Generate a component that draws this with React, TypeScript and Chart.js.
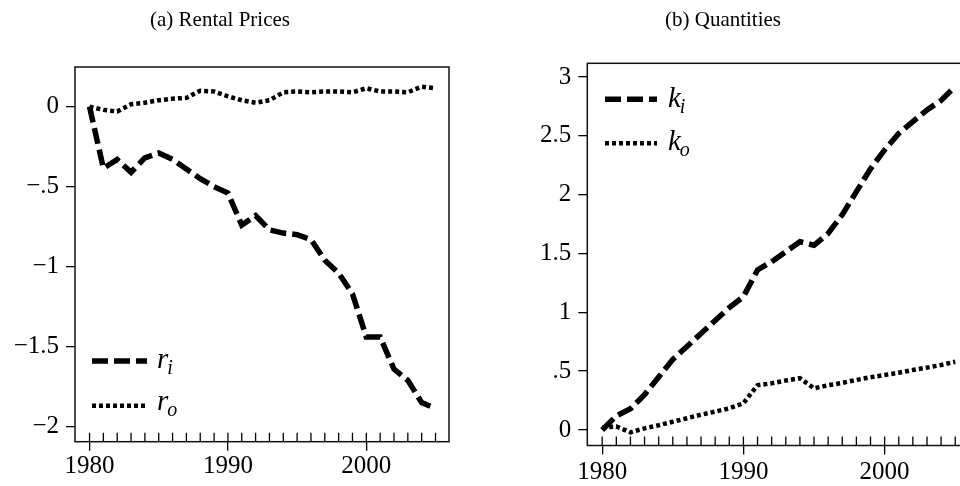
import React, { useEffect, useRef } from "react";
import { Chart, registerables } from "chart.js";

Chart.register(...registerables);

// ---------- data ----------
const years = [
  1980, 1981, 1982, 1983, 1984, 1985, 1986, 1987, 1988, 1989,
  1990, 1991, 1992, 1993, 1994, 1995, 1996, 1997, 1998, 1999,
  2000, 2001, 2002, 2003, 2004, 2005,
];

// (a) Rental Prices
const riValues = [
  0, -0.385, -0.33, -0.41, -0.32, -0.29, -0.33, -0.39, -0.45, -0.5,
  -0.54, -0.74, -0.68, -0.77, -0.79, -0.8, -0.83, -0.96, -1.04, -1.17,
  -1.44, -1.44, -1.64, -1.71, -1.85, -1.885,
];
const roValues = [
  0, -0.02, -0.03, 0.015, 0.025, 0.04, 0.05, 0.055, 0.1, 0.095,
  0.065, 0.04, 0.025, 0.04, 0.09, 0.095, 0.09, 0.095, 0.095, 0.09,
  0.115, 0.095, 0.095, 0.09, 0.125, 0.115,
];

// (b) Quantities
const kiValues = [
  0, 0.12, 0.18, 0.3, 0.45, 0.6, 0.71, 0.82, 0.93, 1.04,
  1.133, 1.36, 1.43, 1.515, 1.6, 1.57, 1.67, 1.83, 2.025, 2.22,
  2.38, 2.52, 2.62, 2.72, 2.8, 2.92,
];
const koValues = [
  0.02, 0.03, -0.02, 0.014, 0.04, 0.07, 0.1, 0.13, 0.156, 0.184,
  0.227, 0.38, 0.397, 0.42, 0.44, 0.354, 0.38, 0.4, 0.425, 0.448,
  0.467, 0.487, 0.51, 0.53, 0.552, 0.58,
];

const xMajorTicks = [1980, 1990, 2000];
const leftYTicks = [0, -0.5, -1, -1.5, -2];
const leftYLabels = ["0", "\u2212.5", "\u22121", "\u22121.5", "\u22122"];
const rightYTicks = [0, 0.5, 1, 1.5, 2, 2.5, 3];
const rightYLabels = ["0", ".5", "1", "1.5", "2", "2.5", "3"];

const leftTitle = "(a) Rental Prices";
const rightTitle = "(b) Quantities";
const leftNames: [string, string][] = [["r", "i"], ["r", "o"]];
const rightNames: [string, string][] = [["k", "i"], ["k", "o"]];

// ---------- styling ----------
const FONT = '"Liberation Serif", "Times New Roman", serif';
const DASH = [16, 6];
const DOT = [4, 3];
const DASH_W = 5.5;
const DOT_W = 4.5;

type PanelSpec = {
  width: number;
  height: number;
  left: number;
  series: [number[], number[]];
  names: [string, string][];
  title: string;
  titleX: number;
  titleY: number;
  yTicks: number[];
  yLabels: string[];
  yMin: number;
  yMax: number;
  xMin: number;
  xMax: number;
  padTop: number;
  padRight: number;
  yAxisWidth: number;
  xAxisHeight: number;
  xLabelPad: number;
  legend: { x0: number; x1: number; tx: number; rows: { y: number; base: number }[] };
};

function makePlugin(p: PanelSpec) {
  return {
    id: "decor",
    afterDraw(chart: any) {
      const ctx = chart.ctx as CanvasRenderingContext2D;
      const a = chart.chartArea;
      const xs = chart.scales.x;
      ctx.save();
      // frame
      ctx.strokeStyle = "#111";
      ctx.lineWidth = 1.5;
      ctx.strokeRect(a.left, a.top, a.right - a.left, a.bottom - a.top);
      // inward x ticks
      ctx.lineWidth = 1.3;
      ctx.strokeStyle = "#000";
      ctx.beginPath();
      for (const yr of years) {
        const px = xs.getPixelForValue(yr);
        ctx.moveTo(px, a.bottom - 9);
        ctx.lineTo(px, a.bottom);
      }
      ctx.stroke();
      // title
      ctx.fillStyle = "#000";
      ctx.font = `21px ${FONT}`;
      ctx.textAlign = "center";
      ctx.textBaseline = "alphabetic";
      ctx.fillText(p.title, p.titleX, p.titleY);
      // legend
      ctx.textAlign = "left";
      p.legend.rows.forEach((row, i) => {
        ctx.beginPath();
        ctx.setLineDash(i === 0 ? DASH : DOT);
        ctx.lineWidth = i === 0 ? DASH_W : DOT_W;
        ctx.lineCap = "butt";
        ctx.moveTo(p.legend.x0, row.y);
        ctx.lineTo(p.legend.x1, row.y);
        ctx.stroke();
        ctx.setLineDash([]);
        const [main, sub] = p.names[i];
        ctx.font = `italic 29px ${FONT}`;
        ctx.fillText(main, p.legend.tx, row.base);
        const w = ctx.measureText(main).width;
        ctx.font = `italic 20px ${FONT}`;
        ctx.fillText(sub, p.legend.tx + w - 1, row.base + 6);
      });
      ctx.restore();
    },
  };
}

function makeConfig(p: PanelSpec): any {
  const ds = (vals: number[], dotted: boolean) => ({
    data: years.map((x, i) => ({ x, y: vals[i] })),
    borderColor: "#000",
    borderWidth: dotted ? DOT_W : DASH_W,
    borderDash: dotted ? DOT : DASH,
    borderCapStyle: "butt",
    borderJoinStyle: "miter",
    pointRadius: 0,
    fill: false,
    tension: 0,
  });
  return {
    type: "line",
    data: { datasets: [ds(p.series[0], false), ds(p.series[1], true)] },
    options: {
      animation: false,
      responsive: false,
      maintainAspectRatio: false,
      events: [],
      layout: { padding: { top: p.padTop, right: p.padRight, left: 0, bottom: 0 } },
      plugins: {
        legend: { display: false },
        tooltip: { enabled: false },
        title: { display: false },
      },
      scales: {
        x: {
          type: "linear",
          min: p.xMin,
          max: p.xMax,
          afterBuildTicks: (s: any) => {
            s.ticks = years.map((v) => ({ value: v }));
          },
          afterFit: (s: any) => {
            s.height = p.xAxisHeight;
          },
          border: { display: false },
          grid: {
            drawOnChartArea: false,
            drawTicks: true,
            tickLength: 9,
            lineWidth: 1.3,
            color: (c: any) =>
              c.tick && xMajorTicks.includes(c.tick.value) ? "#000" : "rgba(0,0,0,0)",
          },
          ticks: {
            autoSkip: false,
            maxRotation: 0,
            minRotation: 0,
            padding: p.xLabelPad,
            color: "#000",
            font: { family: FONT, size: 25 },
            callback: (v: any) => (xMajorTicks.includes(Number(v)) ? String(v) : ""),
          },
        },
        y: {
          type: "linear",
          min: p.yMin,
          max: p.yMax,
          afterBuildTicks: (s: any) => {
            s.ticks = p.yTicks.map((v) => ({ value: v }));
          },
          afterFit: (s: any) => {
            s.width = p.yAxisWidth;
          },
          border: { display: false },
          grid: {
            drawOnChartArea: false,
            drawTicks: true,
            tickLength: 9,
            lineWidth: 1.3,
            color: "#000",
          },
          ticks: {
            padding: 7,
            color: "#000",
            font: { family: FONT, size: 25 },
            callback: (v: any) => {
              const idx = p.yTicks.findIndex((t) => Math.abs(t - Number(v)) < 1e-9);
              return idx >= 0 ? p.yLabels[idx] : "";
            },
          },
        },
      },
    },
    plugins: [makePlugin(p)],
  };
}

function Panel({ spec }: { spec: PanelSpec }) {
  const ref = useRef<HTMLCanvasElement | null>(null);
  useEffect(() => {
    if (!ref.current) return;
    const chart = new Chart(ref.current, makeConfig(spec));
    return () => chart.destroy();
  }, [spec]);
  return (
    <canvas
      ref={ref}
      width={spec.width}
      height={spec.height}
      style={{
        position: "absolute",
        left: spec.left,
        top: 0,
        width: spec.width,
        height: spec.height,
        display: "block",
      }}
    />
  );
}

const leftSpec: PanelSpec = {
  width: 480,
  height: 486,
  left: 0,
  series: [riValues, roValues],
  names: leftNames,
  title: leftTitle,
  titleX: 220,
  titleY: 26,
  yTicks: leftYTicks,
  yLabels: leftYLabels,
  yMin: -2.094,
  yMax: 0.248,
  xMin: 1978.95,
  xMax: 2005.975,
  padTop: 67,
  padRight: 31,
  yAxisWidth: 75,
  xAxisHeight: 44.3,
  xLabelPad: 1,
  legend: {
    x0: 92,
    x1: 147,
    tx: 157,
    rows: [
      { y: 361, base: 368 },
      { y: 405.7, base: 410 },
    ],
  },
};

const rightSpec: PanelSpec = {
  width: 500,
  height: 486,
  left: 480,
  series: [kiValues, koValues],
  names: rightNames,
  title: rightTitle,
  titleX: 243,
  titleY: 26,
  yTicks: rightYTicks,
  yLabels: rightYLabels,
  yMin: -0.132,
  yMax: 3.116,
  xMin: 1978.945,
  xMax: 2005.975,
  padTop: 63.3,
  padRight: 11,
  yAxisWidth: 107.3,
  xAxisHeight: 40.5,
  xLabelPad: 3,
  legend: {
    x0: 125,
    x1: 177,
    tx: 188,
    rows: [
      { y: 99.3, base: 106.7 },
      { y: 143.3, base: 150 },
    ],
  },
};

export default function App() {
  return (
    <div
      style={{
        position: "fixed",
        left: 0,
        top: 0,
        width: 960,
        height: 486,
        overflow: "hidden",
        background: "#fff",
      }}
    >
      <Panel spec={leftSpec} />
      <Panel spec={rightSpec} />
    </div>
  );
}
